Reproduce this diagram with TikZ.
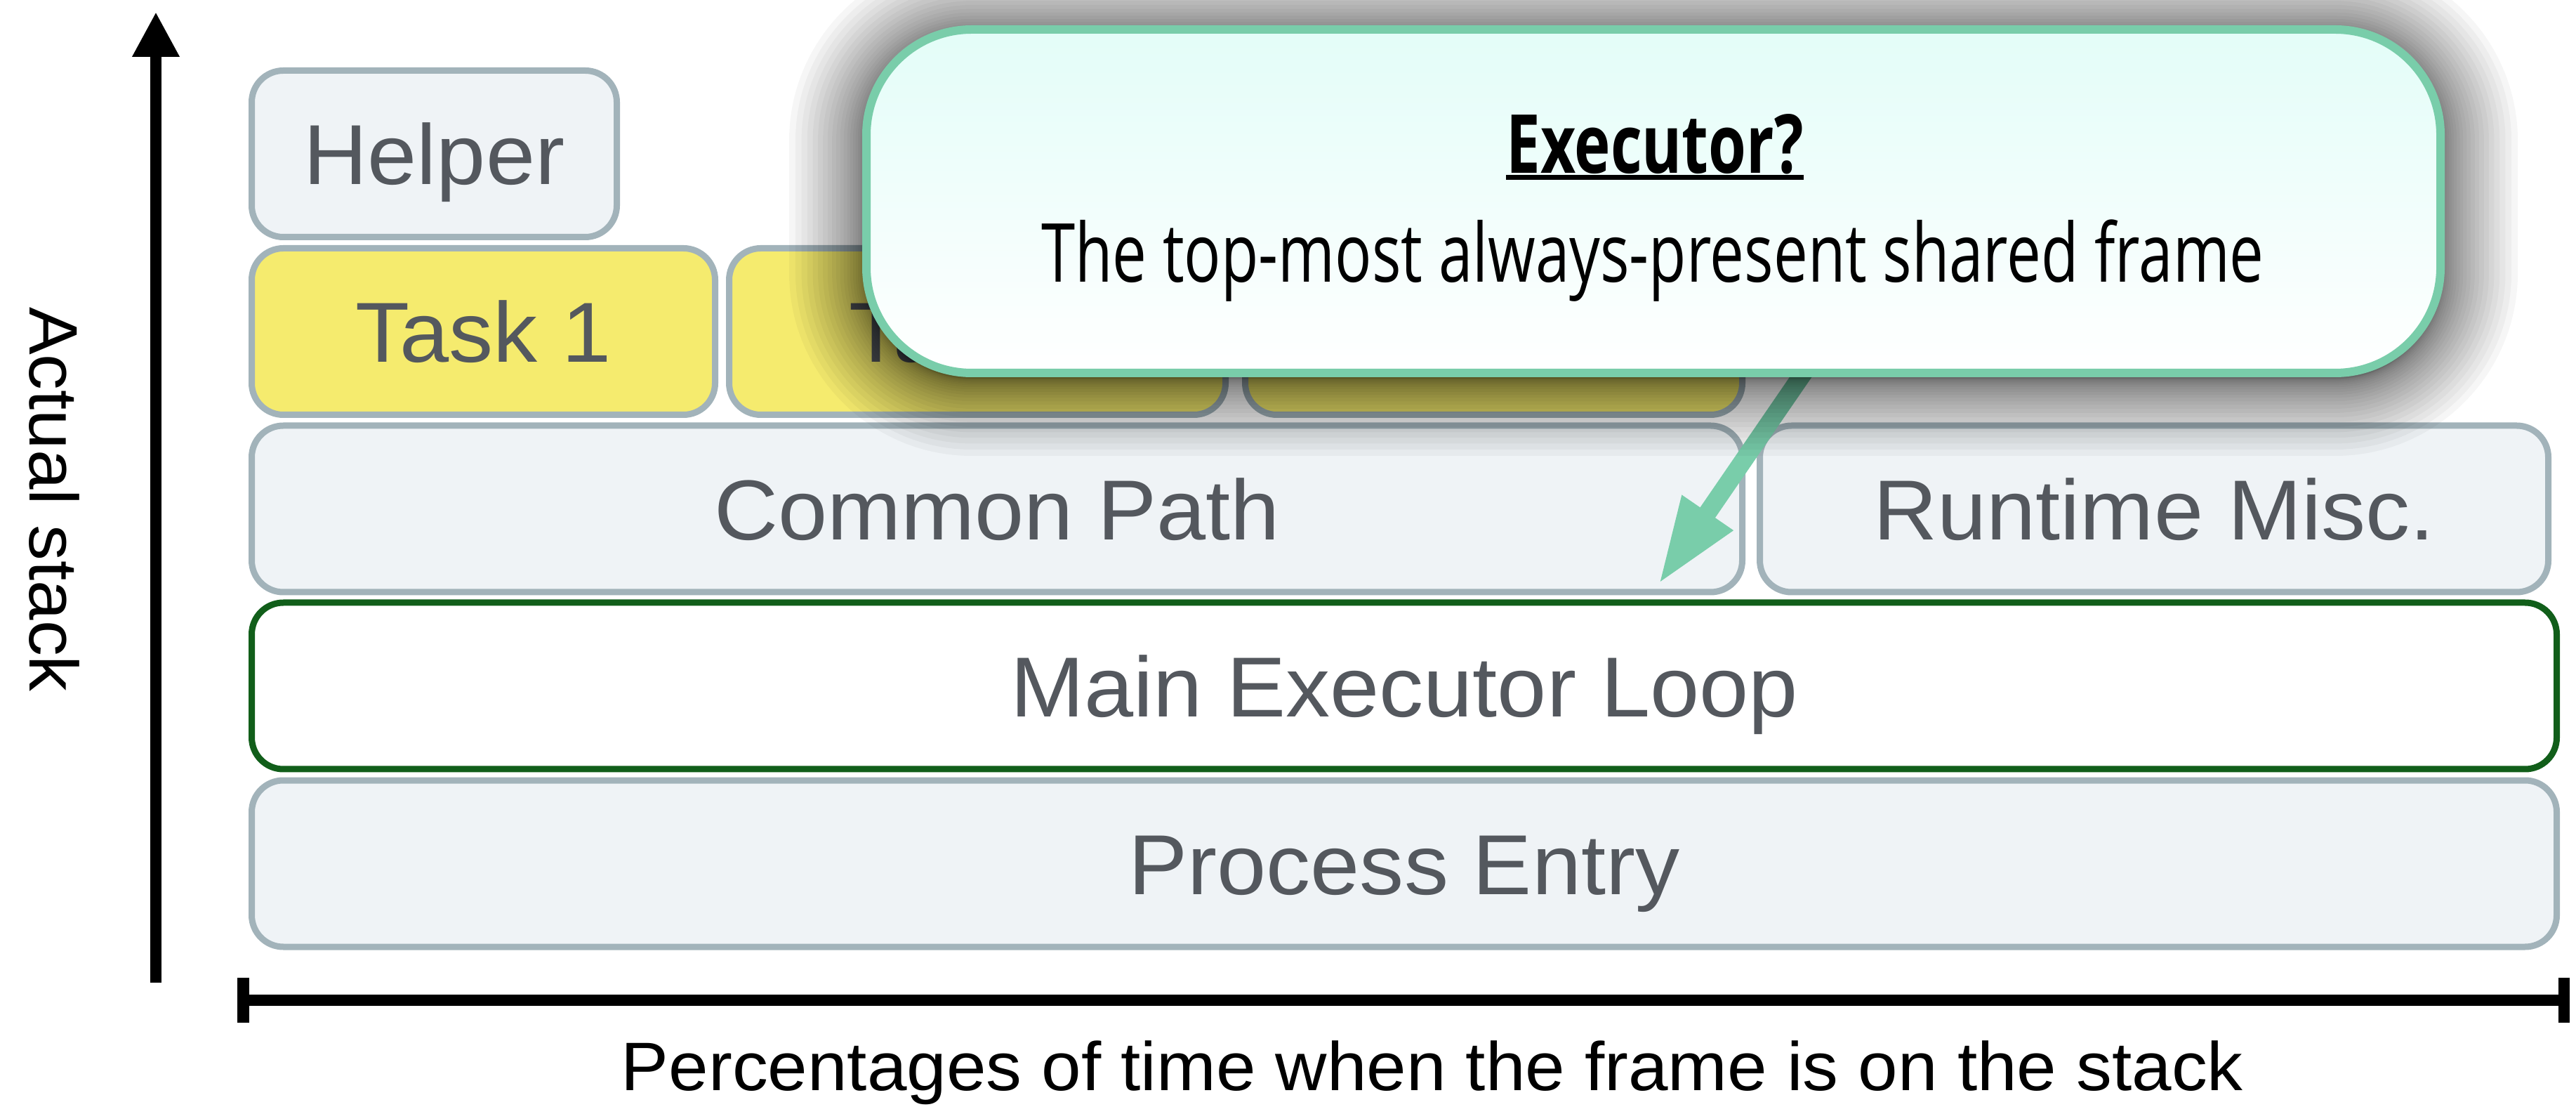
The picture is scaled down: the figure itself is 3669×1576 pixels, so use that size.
\documentclass[tikz,border=0pt]{standalone}
\usepackage{fontspec}
\setmainfont{Liberation Sans}[FakeStretch=1.04]
\newfontfamily\calloutfont{Open Sans}[FakeStretch=0.75]
\usetikzlibrary{arrows.meta}

\definecolor{boxfill}{HTML}{EFF3F6}
\definecolor{boxline}{HTML}{A2B3BA}
\definecolor{taskfill}{HTML}{F5EB6E}
\definecolor{labelgrey}{HTML}{54585E}
\definecolor{loopgreen}{HTML}{115E1A}
\definecolor{pointer}{HTML}{79CDAA}
\definecolor{callouttop}{HTML}{E3FDF8}

% underline with a fixed thickness, set just under the baseline
\newcommand\titlebar[1]{\setbox0\hbox{#1}\rlap{\rule[-0.09cm]{\wd0}{0.07cm}}\box0}

\begin{document}
\begin{tikzpicture}[x=0.1mm,y=-0.1mm,
  frame/.style={draw=boxline, line width=0.09cm, fill=boxfill,
    rounded corners=0.45cm, minimum height=2.37cm, inner sep=0pt,
    text height=0.88cm, text depth=0pt, text=labelgrey,
    font=\fontsize{34.5}{40}\selectfont},
  task/.style={frame, fill=taskfill},
  loopframe/.style={frame, draw=loopgreen, fill=white},
  axis/.style={line width=0.165cm, black},
  axislabel/.style={font=\fontsize{27.8}{34}\selectfont, text=black, inner sep=0pt},
  pointerline/.style={line width=0.26cm, pointer,
    -{Triangle[width=0.81cm,length=1.24cm]}},
  callout/.style={draw=pointer, line width=0.12cm, rounded corners=1.5cm,
    top color=callouttop, bottom color=white,
    minimum width=22.42cm, minimum height=4.89cm, inner sep=0pt},
  shadowlayer/.style={fill=black, opacity=0.035},
  callouttext/.style={font=\calloutfont\fontsize{33}{40}\selectfont, text=black, inner sep=0pt}
]
\useasboundingbox (0,0) rectangle (3669,1576);

% stack frames
\node[frame, minimum width=5.20cm] (helper) at (618.5,219) {Helper};
\node[task, minimum width=6.60cm] (task1) at (688.5,472) {Task 1};
\node[task, minimum width=7.07cm] (task2) at (1392,472) {Task 2};
\node[task, minimum width=7.08cm] (task3) at (2127.5,472) {};
\node[frame, minimum width=21.23cm] (common) at (1420,724.5) {Common Path};
\node[frame, minimum width=11.23cm] (runtime) at (3068,724.5) {Runtime Misc.};
\node[loopframe, minimum width=32.83cm] (mainloop) at (2000,976.5) {Main Executor Loop};
\node[frame, minimum width=32.83cm] (entry) at (2000,1229.5) {Process Entry};

% axes
\coordinate (ybot) at (222,1399);
\coordinate (ytop) at (222,17);
\draw[axis, -{Triangle[width=0.63cm,length=0.64cm]}] (ybot) -- (ytop);
\coordinate (xl) at (346.5,1424);
\coordinate (xr) at (3652,1424);
\draw[axis] (xl) -- (xr);
\draw[axis] ([yshift=0.32cm]xl) -- ([yshift=-0.32cm]xl);
\draw[axis] ([yshift=0.32cm]xr) -- ([yshift=-0.32cm]xr);

\node[axislabel, rotate=-90, anchor=base] (ylabel) at (42,711) {Actual stack};
\node[axislabel, anchor=base] (xlabel) at (2040,1552) {Percentages of time when the frame is on the stack};

% pointer from the callout down to the shared frame
\coordinate (ptrtail) at (2590,500);
\coordinate (ptrtip) at (2362,832);
\draw[pointerline] (ptrtail) -- (ptrtip);

% soft shadow under the callout: translucent rounded rectangles,
% packed densely near the edge so the shade falls off smoothly
\foreach \k [evaluate=\k as \d using {110*(\k/24)^2},
             evaluate=\k as \r using {1.5+0.011*(\k/24)^2*100}] in {0,...,24} {
  \fill[shadowlayer, rounded corners=\r cm]
    (1234-\d, 50-\d) rectangle (3476+\d, 539+\d);
}

% callout
\node[callout] (note) at (2355,286.5) {};
\node[callouttext, anchor=base] (notetitle) at (2357,247) {\bfseries\titlebar{Executor?}};
\node[callouttext, anchor=base] (notebody) at (2354,402) {The top-most always-present shared frame};
\end{tikzpicture}
\end{document}
